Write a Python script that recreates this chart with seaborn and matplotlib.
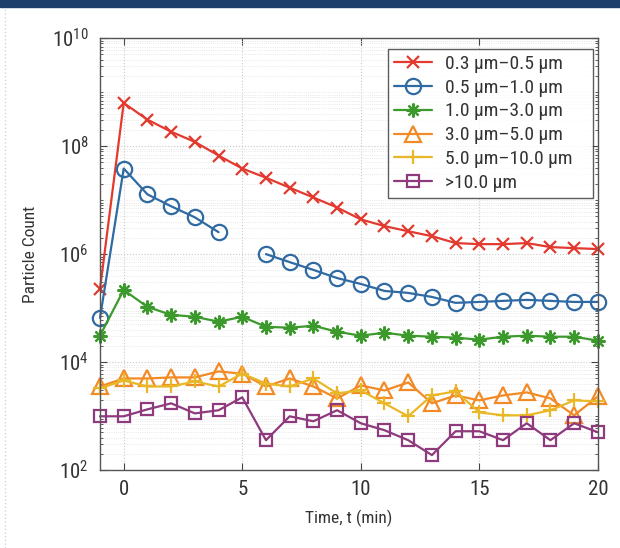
import numpy as np
import pandas as pd
import seaborn as sns
import matplotlib.pyplot as plt
import matplotlib.font_manager as fm
from matplotlib.ticker import LogLocator, NullFormatter
from matplotlib.patches import Rectangle
from matplotlib.lines import Line2D

time = list(range(-1, 21))

labels = ['0.3 µm–0.5 µm', '0.5 µm–1.0 µm', '1.0 µm–3.0 µm',
          '3.0 µm–5.0 µm', '5.0 µm–10.0 µm', '>10.0 µm']

count_03_05 = [2.26e5, 6.3e8, 3.1e8, 1.85e8, 1.2e8, 6.7e7, 3.85e7, 2.6e7, 1.7e7, 1.12e7,
               7.3e6, 4.4e6, 3.3e6, 2.65e6, 2.15e6, 1.6e6, 1.53e6, 1.53e6, 1.6e6, 1.35e6,
               1.29e6, 1.24e6]
count_05_10 = [6.6e4, 3.85e7, 1.28e7, 7.7e6, 4.8e6, 2.55e6, np.nan, 1.0e6, 7.1e5, 5.1e5,
               3.6e5, 2.8e5, 2.08e5, 1.91e5, 1.61e5, 1.25e5, 1.3e5, 1.36e5, 1.42e5, 1.36e5,
               1.3e5, 1.3e5]
count_10_30 = [3.08e4, 2.17e5, 1.05e5, 7.5e4, 6.9e4, 5.6e4, 6.9e4, 4.5e4, 4.33e4, 4.7e4,
               3.65e4, 3.08e4, 3.5e4, 3.08e4, 2.95e4, 2.83e4, 2.6e4, 2.95e4, 3.08e4, 2.95e4,
               2.95e4, 2.49e4]
count_30_50 = [3.53e3, 4.97e3, 4.97e3, 5.2e3, 5.2e3, 6.7e3, 6.1e3, 3.53e3, 4.97e3, 3.53e3,
               2.12e3, 3.69e3, 2.98e3, 4.19e3, 1.72e3, 2.41e3, 1.95e3, 2.41e3, 2.74e3, 2.12e3,
               1.03e3, 2.31e3]
count_50_100 = [3.25e3, 4.56e3, 3.53e3, 3.53e3, 4.37e3, 3.53e3, 6.1e3, 4.0e3, 3.53e3, 4.97e3,
                2.63e3, 2.98e3, 1.72e3, 989, 2.41e3, 2.86e3, 1.17e3, 1.03e3, 1.03e3, 1.28e3,
                1.95e3, 1.87e3]
count_gt100 = [989, 989, 1.33e3, 1.72e3, 1.12e3, 1.28e3, 2.22e3, 357, 989, 800,
               1.28e3, 735, 546, 357, 189, 523, 523, 357, 735, 357,
               735, 501]

series = [count_03_05, count_05_10, count_10_30, count_30_50, count_50_100, count_gt100]
colors = ['#e23a2e', '#2f6aa3', '#3c9a2c', '#f28a26', '#e9b828', '#8e3a7c']
markers = ['x', 'o', (8, 2, 0), '^', '+', 's']
msizes = [8, 11, 10, 11, 10, 9]
open_face = [False, True, False, True, False, True]

sns.set_style('ticks')
names = {f.name for f in fm.fontManager.ttflist}
font = 'DejaVu Sans'
for cand in ['Roboto Condensed', 'Liberation Sans Narrow', 'Open Sans Condensed']:
    if cand in names:
        font = cand
        break
plt.rcParams['font.family'] = [font, 'DejaVu Sans']
if font == 'DejaVu Sans':
    plt.rcParams['font.stretch'] = 'condensed'
plt.rcParams['mathtext.fontset'] = 'custom'
plt.rcParams['mathtext.rm'] = font
plt.rcParams['mathtext.it'] = font

fig = plt.figure(figsize=(6.2, 5.48), dpi=100)
ax = fig.add_axes([0.1613, 0.1423, 0.803, 0.788])

fig.patches.append(Rectangle((0, 1 - 7 / 548), 1, 7 / 548, transform=fig.transFigure,
                             color='#1d3d6b', zorder=0))
fig.add_artist(Line2D([5 / 620, 5 / 620], [0, 1 - 7 / 548], color='#c9d6e6', lw=1,
                      linestyle=':'))

for vals, lab, c, m, ms, of in zip(series, labels, colors, markers, msizes, open_face):
    df = pd.DataFrame({'t': time, 'n': vals})
    # split on gaps so the line breaks where data is missing
    grp = df['n'].isna().cumsum()
    first = True
    for _, part in df.dropna().groupby(grp[df['n'].notna()]):
        sns.lineplot(data=part, x='t', y='n', ax=ax, color=c, marker=m,
                     markersize=ms, markeredgewidth=1.6, linewidth=1.6,
                     markerfacecolor='none' if of else c, markeredgecolor=c,
                     label=lab if first else None, legend=False, clip_on=False)
        first = False

ax.set_yscale('log')
ax.set_xlim(-1, 20)
ax.set_ylim(1e2, 1e10)
ax.set_xticks([0, 5, 10, 15, 20])
ax.set_yticks([1e2, 1e4, 1e6, 1e8, 1e10])
ax.yaxis.set_minor_locator(LogLocator(base=10, subs=np.arange(1, 10), numticks=100))
ax.yaxis.set_minor_formatter(NullFormatter())
ax.tick_params(which='both', direction='in', top=True, right=True, labelsize=15,
               colors='#444444', labelcolor='#333333')
ax.tick_params(which='major', length=5)
ax.tick_params(which='minor', length=2.5)
ax.tick_params(axis='x', pad=7)
ax.tick_params(axis='y', pad=8)
ax.grid(True, which='major', linestyle=':', color='#c8c8c8', linewidth=0.8)
ax.grid(True, which='minor', axis='y', linestyle=':', color='#e0e0e0', linewidth=0.6)
for s in ax.spines.values():
    s.set_color('#555555')
    s.set_linewidth(1.0)

ax.set_xlabel('Time, t (min)', fontsize=12.5, color='#333333', labelpad=8)
ax.set_ylabel('Particle Count', fontsize=12.5, color='#333333', labelpad=10)

leg = ax.legend(loc='upper left', bbox_to_anchor=(0.578, 0.645, 0.412, 0.33),
                mode='expand', borderaxespad=0, fontsize=14, frameon=True,
                fancybox=False, handlelength=2.0, handletextpad=0.65,
                labelspacing=0.3, borderpad=0.3)
leg.get_frame().set_edgecolor('#333333')
leg.get_frame().set_linewidth(1.0)
for t in leg.get_texts():
    t.set_color('#333333')

fig.savefig('out.png', dpi=100)
